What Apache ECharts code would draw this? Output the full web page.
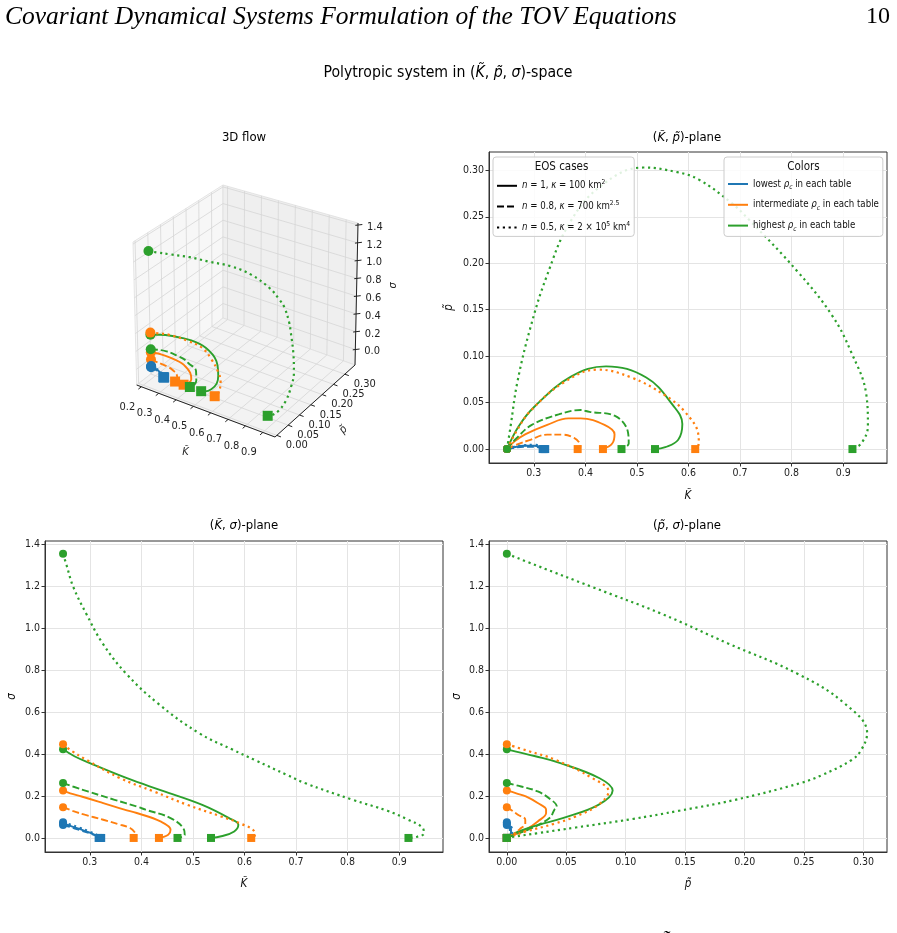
<!DOCTYPE html>
<html>
<head>
<meta charset="UTF-8">
<title>Polytropic system</title>
<script src="https://cdn.jsdelivr.net/npm/echarts@6.0.0/dist/echarts.min.js"></script>
<style>
  *{margin:0;padding:0}
  html,body{width:100%;height:100%;background:#fff}
  #main{width:897px;height:933px}
</style>
</head>
<body>
<div id="main"></div>
<script type="text/javascript">
// ---- data: each trajectory is a list of [K~, p~, sigma] samples (start at centre, end at surface)
var n1Lowest = [[0.248,0,0.068],[0.262,0.002,0.058],[0.28,0.0035,0.043],[0.30,0.0035,0.025],[0.314,0.002,0.01],[0.318,0.0005,0.002],[0.317,0,0]];
var n1Intermediate = [[0.248,0,0.227],[0.262,0.008,0.213],[0.284,0.016,0.198],[0.326,0.026,0.1665],[0.367,0.033,0.135],[0.391,0.033,0.119],[0.437,0.026,0.079],[0.4565,0.016,0.0395],[0.452,0.006,0.015],[0.434,0,0]];
var n1Highest = [[0.248,0,0.423],[0.27,0.024,0.39],[0.30,0.045,0.357],[0.372,0.078,0.285],[0.440,0.089,0.226],[0.518,0.077,0.158],[0.570,0.047,0.095],[0.588,0.027,0.063],[0.580,0.010,0.031],[0.555,0.002,0.008],[0.535,0,0]];
var n08Lowest = [[0.248,0,0.062],[0.262,0.0015,0.052],[0.28,0.0025,0.038],[0.30,0.0025,0.022],[0.315,0.0012,0.008],[0.32,0,0]];
var n08Intermediate = [[0.248,0,0.147],[0.268,0.005,0.128],[0.29,0.0093,0.111],[0.326,0.0155,0.087],[0.355,0.0155,0.066],[0.378,0.012,0.0475],[0.388,0.007,0.024],[0.39,0.002,0.008],[0.385,0,0]];
var n08Highest = [[0.248,0,0.262],[0.267,0.012,0.2455],[0.296,0.026,0.222],[0.348,0.0373,0.182],[0.391,0.042,0.150],[0.408,0.040,0.135],[0.4565,0.0359,0.095],[0.4826,0.018,0.0395],[0.484,0.006,0.015],[0.47,0,0]];
var n05Lowest = [[0.248,0,0.075],[0.262,0.0025,0.064],[0.28,0.004,0.049],[0.30,0.0045,0.03],[0.316,0.003,0.012],[0.323,0.001,0.003],[0.322,0,0]];
var n05Intermediate = [[0.248,0,0.447],[0.265,0.018,0.415],[0.2935,0.041,0.3725],[0.359,0.072,0.285],[0.424,0.0855,0.222],[0.489,0.077,0.158],[0.554,0.058,0.103],[0.593,0.04,0.068],[0.619,0.016,0.031],[0.62,0.006,0.012],[0.613,0,0]];
var n05Highest = [[0.248,0,1.356],[0.255,0.025,1.30],[0.268,0.072,1.197],[0.293,0.130,1.07],[0.325,0.186,0.928],[0.370,0.244,0.785],[0.432,0.284,0.642],[0.512,0.303,0.50],[0.578,0.298,0.42],[0.620,0.290,0.372],[0.683,0.265,0.30],[0.717,0.247,0.262],[0.81,0.192,0.182],[0.877,0.145,0.13],[0.915,0.105,0.09],[0.945,0.058,0.05],[0.948,0.025,0.022],[0.935,0.006,0.006],[0.918,0,0]];

var kTicks = [0.3,0.4,0.5,0.6,0.7,0.8,0.9];
var pTicks = [0,0.05,0.10,0.15,0.20,0.25,0.30];
var sTicks = [0,0.2,0.4,0.6,0.8,1.0,1.2,1.4];
var kTicks3d = [0.2,0.3,0.4,0.5,0.6,0.7,0.8,0.9];

var eosNames = ['n=1','n=0.8','n=0.5'];
var rhoNames = ['lowest','intermediate','highest'];

var SANS = 'DejaVu Sans Condensed';
var FS = 10.5;

function rich(size, color) {
  color = color || '#111';
  return {
    t: {fontFamily: SANS, fontSize: size, color: color, lineHeight: size + 4},
    i: {fontFamily: SANS, fontSize: size, color: color, fontStyle: 'italic', lineHeight: size + 4},
    sup: {fontFamily: SANS, fontSize: size * 0.7, color: color, lineHeight: size * 0.7 + 1, verticalAlign: 'top'},
    sub: {fontFamily: SANS, fontSize: size * 0.7, color: color, fontStyle: 'italic', lineHeight: size * 0.7 + 1, verticalAlign: 'bottom'}
  };
}

var palette = ['#1f77b4', '#ff7f0e', '#2ca02c'];
var dashes = ['solid', [7, 3], [2.2, 3.6]];
var tables = [
  [n1Lowest, n1Intermediate, n1Highest],
  [n08Lowest, n08Intermediate, n08Highest],
  [n05Lowest, n05Intermediate, n05Highest]
];

// ---- 3D view: axis limits and where the box corners land on the page
var lim3d = {k: [0.173, 0.970], p: [-0.008, 0.345], s: [-0.174, 1.423]};
var boxCorners = {
  '000': [136.7, 385], '100': [275, 437], '110': [355, 365], '010': [223, 318],
  '001': [133, 242], '101': [274, 288], '111': [358, 223], '011': [223, 185]
};
function proj(K, p, s) {
  var a = (K - lim3d.k[0]) / (lim3d.k[1] - lim3d.k[0]);
  var b = (p - lim3d.p[0]) / (lim3d.p[1] - lim3d.p[0]);
  var c = (s - lim3d.s[0]) / (lim3d.s[1] - lim3d.s[0]);
  var x = 0, y = 0;
  for (var key in boxCorners) {
    var w = (key[0] === '1' ? a : 1 - a) * (key[1] === '1' ? b : 1 - b) * (key[2] === '1' ? c : 1 - c);
    x += w * boxCorners[key][0];
    y += w * boxCorners[key][1];
  }
  return [x, y];
}
var k0 = lim3d.k[0], k1 = lim3d.k[1], p0 = lim3d.p[0], p1 = lim3d.p[1], s0 = lim3d.s[0], s1 = lim3d.s[1];
var dk = k1 - k0, dp = p1 - p0;
function seg(A, B) { return proj(A[0], A[1], A[2]).concat(proj(B[0], B[1], B[2])); }

var panes = [
  {pts: [[k0,p0,s0],[k0,p1,s0],[k0,p1,s1],[k0,p0,s1]], fill: '#f7f7f7'},
  {pts: [[k0,p1,s0],[k1,p1,s0],[k1,p1,s1],[k0,p1,s1]], fill: '#efefef'},
  {pts: [[k0,p0,s0],[k1,p0,s0],[k1,p1,s0],[k0,p1,s0]], fill: '#f3f3f3'}
];
var gridSegs = [];
kTicks3d.forEach(function (k) { gridSegs.push(seg([k,p0,s0],[k,p1,s0])); gridSegs.push(seg([k,p1,s0],[k,p1,s1])); });
pTicks.forEach(function (p) { gridSegs.push(seg([k0,p,s0],[k1,p,s0])); gridSegs.push(seg([k0,p,s0],[k0,p,s1])); });
sTicks.forEach(function (s) { gridSegs.push(seg([k0,p0,s],[k0,p1,s])); gridSegs.push(seg([k0,p1,s],[k1,p1,s])); });
var axisSegs = [seg([k0,p0,s0],[k1,p0,s0]), seg([k1,p0,s0],[k1,p1,s0]), seg([k1,p1,s0],[k1,p1,s1])];
kTicks3d.forEach(function (k) { axisSegs.push(seg([k,p0,s0],[k,p0 - 0.035 * dp,s0])); });
pTicks.forEach(function (p) { axisSegs.push(seg([k1,p,s0],[k1 + 0.03 * dk,p,s0])); });
sTicks.forEach(function (s) { axisSegs.push(seg([k1 - 0.012 * dk,p1 - 0.012 * dp,s],[k1 + 0.02 * dk,p1 + 0.02 * dp,s])); });

var labels3d = [];
kTicks3d.forEach(function (k) { labels3d.push({at: [k,p0,s0], dx: -14, dy: 20, text: k.toFixed(1)}); });
pTicks.forEach(function (p) { labels3d.push({at: [k1,p,s0], dx: 20, dy: 10, text: p.toFixed(2)}); });
sTicks.forEach(function (s) { labels3d.push({at: [k1,p1,s], dx: 9, dy: 2, text: s.toFixed(1), align: 'left'}); });
labels3d.push({at: [0.57,p0,s0], dx: -20, dy: 41, text: 'K\u0303', italic: true});
labels3d.push({at: [k1,0.17,s0], dx: 28, dy: 29, text: 'p\u0303', italic: true, rot: 0.8});
labels3d.push({at: [k1,p1,0.7], dx: 36, dy: -2, text: '\u03c3', italic: true, rot: Math.PI / 2});

// ---- series
var views = [
  {grid: 0, pick: function (q) { return [q[0], q[1]]; }, ms: 8},
  {grid: 1, pick: function (q) { return [q[0], q[2]]; }, ms: 8},
  {grid: 2, pick: function (q) { return [q[1], q[2]]; }, ms: 8},
  {grid: 3, pick: function (q) { return proj(q[0], q[1], q[2]); }, ms: 10}
];
var series = [];
series.push({
  type: 'custom', xAxisIndex: 3, yAxisIndex: 3, z: 1, silent: true,
  data: panes.map(function (_, i) { return [i, 0]; }),
  renderItem: function (params, api) {
    var pane = panes[params.dataIndex];
    return {type: 'polygon', shape: {points: pane.pts.map(function (q) { return api.coord(proj(q[0], q[1], q[2])); })},
      style: {fill: pane.fill, stroke: '#dedede', lineWidth: 0.8}};
  }
});
[[gridSegs, '#d6d6d6', 0.8], [axisSegs, '#222', 1]].forEach(function (set) {
  series.push({
    type: 'custom', xAxisIndex: 3, yAxisIndex: 3, z: 1, silent: true, data: set[0],
    renderItem: function (params, api) {
      var a = api.coord([api.value(0), api.value(1)]), b = api.coord([api.value(2), api.value(3)]);
      return {type: 'line', shape: {x1: a[0], y1: a[1], x2: b[0], y2: b[1]}, style: {stroke: set[1], lineWidth: set[2]}};
    }
  });
});
series.push({
  type: 'custom', xAxisIndex: 3, yAxisIndex: 3, z: 1, silent: true,
  data: labels3d.map(function (_, i) { return [i, 0]; }),
  renderItem: function (params, api) {
    var L = labels3d[params.dataIndex];
    var pt = api.coord(proj(L.at[0], L.at[1], L.at[2]));
    return {type: 'text', x: pt[0] + L.dx, y: pt[1] + L.dy, rotation: L.rot || 0,
      style: {text: L.text, fill: '#222', fontSize: FS + 0.5, fontFamily: SANS, fontStyle: L.italic ? 'italic' : 'normal',
        align: L.align || 'center', verticalAlign: 'middle'}};
  }
});

views.forEach(function (v) {
  tables.forEach(function (tab, e) {
    tab.forEach(function (curve, r) {
      var pts = curve.map(v.pick);
      series.push({
        type: 'line', xAxisIndex: v.grid, yAxisIndex: v.grid, z: 2, silent: true,
        data: pts, smooth: 0.4, symbol: 'none', showSymbol: false,
        lineStyle: {color: palette[r], width: e === 2 ? 2.2 : 1.9, type: dashes[e], cap: 'butt'}
      });
      series.push({
        type: 'scatter', xAxisIndex: v.grid, yAxisIndex: v.grid, z: 2, silent: true,
        data: [{value: pts[0], symbol: 'circle'}, {value: pts[pts.length - 1], symbol: 'rect'}],
        symbolSize: v.ms, itemStyle: {color: palette[r], opacity: 1}
      });
    });
  });
});

// legend-only entries
eosNames.forEach(function (name, e) {
  series.push({type: 'line', name: name, xAxisIndex: 0, yAxisIndex: 0, data: [], symbol: 'none',
    itemStyle: {color: '#000'}, lineStyle: {color: '#000', width: 2.4, type: dashes[e]}});
});
rhoNames.forEach(function (name, r) {
  series.push({type: 'line', name: name, xAxisIndex: 0, yAxisIndex: 0, data: [], symbol: 'none',
    itemStyle: {color: palette[r]}, lineStyle: {color: palette[r], width: 2.4}});
});
var legendText = {
  'n=1': '{i|n}{t| = 1, }{i|\u03ba}{t| = 100 km}{sup|2}',
  'n=0.8': '{i|n}{t| = 0.8, }{i|\u03ba}{t| = 700 km}{sup|2.5}',
  'n=0.5': '{i|n}{t| = 0.5, }{i|\u03ba}{t| = 2 \u00d7 10}{sup|5}{t| km}{sup|4}',
  'lowest': '{t|lowest }{i|\u03c1}{sub|c}{t| in each table}',
  'intermediate': '{t|intermediate }{i|\u03c1}{sub|c}{t| in each table}',
  'highest': '{t|highest }{i|\u03c1}{sub|c}{t| in each table}'
};
var LFS = 9.6;
function legendBox(names, left) {
  return {
    data: names, left: left, top: 157, orient: 'vertical', selectedMode: false,
    padding: [22, 4, 4, 3], itemGap: 9, itemWidth: 20, itemHeight: 10,
    backgroundColor: 'rgba(255,255,255,0.85)', borderColor: '#cccccc', borderWidth: 1, borderRadius: 3,
    itemStyle: {color: 'rgba(0,0,0,0)', borderWidth: 0, opacity: 0},
    formatter: function (n) { return legendText[n]; },
    textStyle: {fontFamily: SANS, fontSize: LFS, color: '#111', rich: rich(LFS)}
  };
}

function valueAxis(grid, lim, ticks, digits, name, gap, isY) {
  return {
    type: 'value', gridIndex: grid, min: lim[0], max: lim[1],
    name: name, nameLocation: 'middle', nameGap: gap, nameRotate: isY ? 90 : 0,
    nameTextStyle: {fontFamily: SANS, fontSize: FS + 1, fontStyle: 'italic', color: '#111'},
    axisLine: {show: true, onZero: false, lineStyle: {color: '#333', width: 1}},
    axisTick: {show: true, inside: false, length: 3.5, customValues: ticks, lineStyle: {color: '#333'}},
    axisLabel: {customValues: ticks, margin: 5, fontFamily: SANS, fontSize: FS, color: '#222',
      formatter: function (val) { return val.toFixed(digits); }},
    splitLine: {show: true, lineStyle: {color: '#e4e4e4', width: 1}}
  };
}
var kLim = [0.213, 0.985], pLim = [-0.015, 0.3197], sLim = [-0.067, 1.417];
var hidden = {type: 'value', gridIndex: 3, show: false, splitLine: {show: false}};

function gridBox(left, top) {
  return {left: left, top: top, width: 398, height: 311, show: true, borderColor: '#333', borderWidth: 1,
    backgroundColor: 'transparent', outerBoundsMode: 'none'};
}

var titleRich = rich(13);
var graphics = [
  {type: 'text', x: 5, y: 17, style: {text: 'Covariant Dynamical Systems Formulation of the TOV Equations',
    font: 'italic 25.5px "Liberation Serif"', fill: '#000', verticalAlign: 'middle'}},
  {type: 'text', x: 890, y: 17, style: {text: '10', font: '24px "Liberation Serif"', fill: '#000', align: 'right', verticalAlign: 'middle'}},
  {type: 'text', x: 448, y: 73, style: {text: '{t|Polytropic system in (}{i|K\u0303}{t|, }{i|p\u0303}{t|, }{i|\u03c3}{t|)-space}',
    rich: rich(15.7), align: 'center', verticalAlign: 'middle'}},
  {type: 'text', x: 244, y: 138, style: {text: '{t|3D flow}', rich: titleRich, align: 'center', verticalAlign: 'middle'}},
  {type: 'text', x: 687, y: 138, style: {text: '{t|(}{i|K\u0303}{t|, }{i|p\u0303}{t|)-plane}', rich: titleRich, align: 'center', verticalAlign: 'middle'}},
  {type: 'text', x: 244, y: 526, style: {text: '{t|(}{i|K\u0303}{t|, }{i|\u03c3}{t|)-plane}', rich: titleRich, align: 'center', verticalAlign: 'middle'}},
  {type: 'text', x: 687, y: 526, style: {text: '{t|(}{i|p\u0303}{t|, }{i|\u03c3}{t|)-plane}', rich: titleRich, align: 'center', verticalAlign: 'middle'}},
  {type: 'text', x: 561.5, y: 167, z: 100, style: {text: 'EOS cases', font: '11.5px "' + SANS + '"', fill: '#111', align: 'center', verticalAlign: 'middle'}},
  {type: 'text', x: 803.5, y: 167, z: 100, style: {text: 'Colors', font: '11.5px "' + SANS + '"', fill: '#111', align: 'center', verticalAlign: 'middle'}},
  {type: 'text', x: 652, y: 943, style: {text: '(K\u0303, p\u0303)', font: 'italic 20px "Liberation Serif"', fill: '#000', verticalAlign: 'middle'}}
];

var myChart = echarts.init(document.getElementById('main'));
var option = {
  animation: false,
  backgroundColor: '#fff',
  grid: [gridBox(489, 152), gridBox(45, 541), gridBox(489, 541),
    {left: 0, top: 0, width: 897, height: 933, show: false, outerBoundsMode: 'none'}],
  xAxis: [
    valueAxis(0, kLim, kTicks, 1, 'K\u0303', 27),
    valueAxis(1, kLim, kTicks, 1, 'K\u0303', 26),
    valueAxis(2, pLim, pTicks, 2, 'p\u0303', 26),
    Object.assign({min: 0, max: 897}, hidden)
  ],
  yAxis: [
    valueAxis(0, pLim, pTicks, 2, 'p\u0303', 34, true),
    valueAxis(1, sLim, sTicks, 1, '\u03c3', 27, true),
    valueAxis(2, sLim, sTicks, 1, '\u03c3', 26, true),
    Object.assign({min: 0, max: 933, inverse: true}, hidden)
  ],
  legend: [legendBox(eosNames, 493), legendBox(rhoNames, 724)],
  graphic: graphics,
  series: series
};
myChart.setOption(option);
</script>
</body>
</html>
